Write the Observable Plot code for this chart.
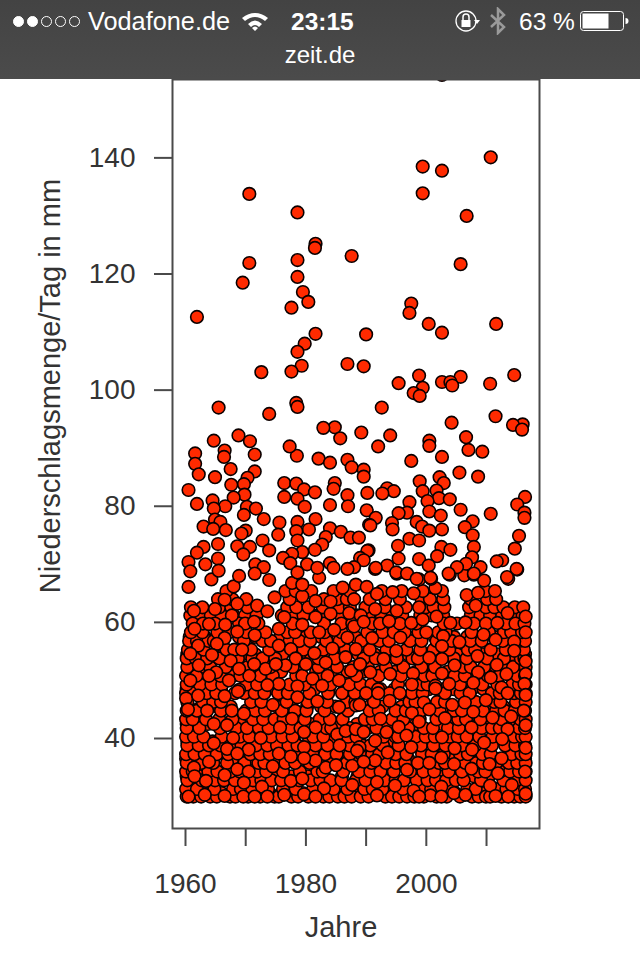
<!DOCTYPE html>
<html lang="de">
<head>
<meta charset="utf-8">
<script src="https://cdn.jsdelivr.net/npm/d3@7"></script>
<script src="https://cdn.jsdelivr.net/npm/@observablehq/plot@0.6"></script>
<style>
html,body{margin:0;padding:0;background:#fff;width:640px;height:960px;overflow:hidden}
#bar{position:relative;width:640px;height:79px;background:linear-gradient(#434343,#4b4b4b);color:#fff;font-family:"Liberation Sans",sans-serif;font-size:24.5px}
#bar span,#bar i,#bar svg{position:absolute}
.d{width:11px;height:11px;border-radius:50%;top:16px;box-sizing:border-box;border:1px solid #fff}
.f{background:#fff}
svg.plot{display:block;filter:blur(.5px)}
</style>
</head>
<body>
<div id="bar">
<i class="d f" style="left:13px"></i><i class="d f" style="left:27px"></i><i class="d" style="left:41px"></i><i class="d" style="left:55px"></i><i class="d" style="left:69px"></i>
<span style="left:88px;top:7px;font-size:25.3px">Vodafone.de</span>
<svg style="left:241px;top:11px" width="28" height="20" viewBox="0 0 28 20"><path d="M1 7Q14 -3 27 7L24 10Q14 2 4 10ZM7 13Q14 6 21 13L18 16Q14 12 10 16ZM11 17Q14 14 17 17L14 20Z" fill="#fff"/></svg>
<span style="left:291px;top:8px;font-weight:700">23:15</span>
<svg style="left:454px;top:8px" width="26" height="26" viewBox="0 0 26 26"><circle cx="12" cy="13" r="10" fill="none" stroke="#fff" stroke-width="1.3"/><rect x="7.500" y="12" width="9" height="7" fill="#fff"/><path d="M9 12V9a3 3 0 0 1 6 0v3" fill="none" stroke="#fff" stroke-width="1.500"/><path d="M20 12h6l-3 4z" fill="#fff"/></svg>
<svg style="left:489px;top:7px" width="18" height="28" viewBox="0 0 18 28"><path d="M2 8L15 20L9 26V2L15 8L2 20" fill="none" stroke="#9a9a9a" stroke-width="2.500"/></svg>
<span style="left:519px;top:8px">63 %</span>
<svg style="left:580px;top:11px" width="50" height="20" viewBox="0 0 50 20"><rect x=".5" y=".5" width="43" height="19" rx="3" fill="none" stroke="#fff"/><rect x="2.500" y="2.500" width="26" height="15" fill="#fff"/><path d="M45.500 7a3 3 0 0 1 0 6z" fill="#fff"/></svg>
<span style="left:0;width:640px;text-align:center;top:41px;font-size:24px">zeit.de</span>
</div>
<div id="chart"></div>
<script>
const xDomain=[1957.84,2018.8], yDomain=[24.5,153.5];
const xTicks=[1960,1970,1980,1990,2000,2010], yTicks=[40,60,80,100,120,140];
const xLabel="Jahre", yLabel="Niederschlagsmenge/Tag in mm";

const highPoints=[[2002.6,154.3],[2010.7,140.1],[1999.4,138.5],[2002.6,137.8],[1999.4,133.9],[1970.6,133.8],[1978.6,130.6],[2006.7,130],[1981.6,125.2],[1981.5,124.5],[1987.6,123.1],[1978.6,122.4],[1970.6,121.9],[2005.7,121.7],[1978.6,119.5],[1969.5,118.5],[1979.5,116.9],[1980.4,115.2],[1997.5,114.9],[1977.6,114.2],[1997.2,113.3],[1961.9,112.6],[2000.4,111.4],[2011.6,111.4],[2002.6,109.9],[1981.6,109.7],[1990,109.6],[1979.8,108],[1978.6,106.6],[1986.9,104.5],[1979.3,104.2],[1989.6,104.1],[1977.6,103.2],[1972.6,103.1],[2014.6,102.6],[1998.8,102.5],[2005.7,102.3],[2002.6,101.4],[2004,101.4],[1995.4,101.2],[2010.6,101.1],[2004.3,100.8],[1999.4,100.4],[1997.9,99.5],[1998.9,99],[1978.4,97.8],[1978.6,97.1],[1965.5,97],[1992.6,97],[1973.9,95.9],[2011.5,95.5],[2004.2,94.4],[2016,94.1],[2014.4,94],[1984.8,93.6],[1982.9,93.5],[2015.9,93.2],[1989.2,92.7],[1968.8,92.2],[1994,92.2],[2006.6,91.9],[1985.7,91.7],[1964.7,91.3],[2000.5,91.3],[1970.7,91.2],[2000.5,90.4],[1977.3,90.3],[1992,90.3]];

const midPoints=[[1961.6,89.1],[1971.5,88.9],[2007,89.7],[1966.5,89.6],[2009.3,89.4],[1978.5,88.7],[1966.4,88.5],[2002.6,88.5],[1982.1,88.2],[1986.9,88],[1997.5,87.8],[1984,87.5],[1961.6,87.3],[1987.6,86.7],[1967.5,86.4],[1989.6,86.3],[1971.5,86],[2005.5,85.8],[1962.2,85.5],[1989.6,85.1],[2008.6,85.1],[1964.9,85],[2002.2,85],[1970.3,84.9],[1998.9,84.3],[1976.4,84],[1984.8,84],[2002.9,84],[1978.4,83.9],[1969.7,83.8],[1967.6,83.7],[1993.5,83.1],[1984.6,83],[1979.7,82.9],[1960.5,82.8],[2001.7,82.7],[1999.4,82.6],[1994.6,82.6],[1981.5,82.4],[1990.2,82.3],[1992.7,82.2],[1969.8,82],[1986.9,81.9],[1976.4,81.6],[2016.4,81.6],[1968,81.5],[2002.1,81.4],[1978.6,81.3],[2003.9,81.2],[1964.5,81],[2000.2,80.9],[1997.2,80.7],[1961.9,80.4],[2015.1,80.3],[1984,80.2],[1966.6,80],[1987,80],[1970.2,79.9],[1979.8,79.9],[1964.7,79.6],[1971.7,79.6],[2005.7,79.4],[1990.1,79.3],[2000.5,79.1],[1996.8,78.9],[2016.3,78.9],[1995.4,78.8],[2010.7,78.7],[1969.7,78.5],[2002.4,78.4],[1991.6,78],[2016.3,78],[1973,77.8],[1981.6,77.8],[1964.9,77.7],[2007.7,77.4],[1965.8,77.3],[1978.6,77.3],[1998.4,77.3],[1975.6,77.2],[1994.3,77.1],[1990.5,76.8],[1990.7,76.7],[1963,76.5],[1999.3,76.5],[2006.4,76.4],[1984,76.2],[1964.6,76.1],[1980.5,76],[1994.4,76],[2002.6,76],[1966.7,75.9],[1970,75.8],[2000.5,75.8],[1978.4,75.7],[1985.8,75.6],[1969.3,75.3],[1975.4,75.1],[2007.7,75],[2015.4,74.9],[1983.3,74.7],[1987.4,74.6],[1988.8,74.6],[1997.2,74.4],[1972.8,74.1],[1978.6,74.1],[1998.8,74.1],[1965.4,73.5],[1982.7,73.4],[1995.3,73.2],[1968.6,73.1],[1963,73],[1970.7,73],[2002.5,73],[2007.9,73],[2014.7,72.7],[1981.5,72.5],[2004,72.5],[1973.9,72.4],[1990.4,72.4],[1990.2,72.3],[1979.4,72.1],[1961.9,72],[1977.7,71.8],[1969.6,71.7],[2001.8,71.4],[2007.6,71.2],[1976.2,71.1],[1989,71.1],[1965.4,71],[1995.4,71],[1998.8,70.9],[2012.6,70.7],[1989.6,70.7],[2011.7,70.5],[1960.5,70.4],[1977.4,70.2],[1984,70.2],[2006.6,70.1],[1963.3,70],[1971.6,70],[1980.2,70],[2000.4,69.8],[1993.5,69.8],[1973,69.5],[1988,69.5],[2005.1,69.5],[2009,69.5],[1981.9,69.4],[1984.6,69.4],[1991.6,69.4],[1986.9,69.2],[2015,69.2],[1960.8,68.8],[1965.5,68.9],[1978.6,68.6],[1995,68.6],[1971.5,68.4],[1996.8,68.4],[2003.7,68.4],[2007.9,68.4],[1968.9,68],[2013.4,67.8],[2000.7,67.7],[1998.4,67.5]];

const topLayer=[[1960.5,66.1],[1964.3,67.4],[1968,66.2],[1973.9,67.3],[1974.8,64.3],[1966.5,63.9],[1968.6,63.2],[1971.9,62.9],[1973.6,61.9],[1961.4,62],[1964.9,62.3],[1967.7,61.2],[1971.4,60.1],[1976.4,60.9],[1979.4,59.6],[1981.6,60.9],[1984.1,61.5],[1981.6,63.7],[1979.4,64.5],[1977.7,66.8],[1979.4,66.5],[1982.2,67.7],[1986.1,66],[1988.3,66.5],[1984.1,63.6],[1988,64],[1987.2,61.6],[1989.1,61.2],[1966.6,59.6],[1961.5,58.9],[1963.9,59.7],[1968.6,58.4],[1971.5,57.8],[1975.5,58.9],[1982.2,58.3],[1984.7,58.7],[1988,59.3],[1986.9,57.4],[1966.5,57.3],[1962.1,56],[1965.2,56.3],[1969.4,55.3],[1975.5,56],[1977.5,55.4],[1981.4,54.7],[1984.4,55.5],[1988.3,55.4],[1960.8,54.6],[1964.4,54.4],[1967.5,53.4],[1978.3,53.8],[1983.3,53.1],[1986.6,54],[1973.3,52],[1980,52.8],[1976.6,52.6],[1965.1,51.4],[1960.8,50],[1970.6,50.8],[1975.5,49.4],[1981.1,50.3],[1985.5,50],[1982.7,49.1],[1967.2,50],[1978.6,49],[1973.6,49.2],[1987.5,51.7],[1968.9,48.4],[1963.9,50.8],[1971.4,52.8],[1962.2,52.6],[1968.9,52],[1975,52.8],
[1990.1,66.1],[1991.8,64.9],[1994.4,65.2],[1997.9,65],[2001.5,65.9],[1998.8,67.4],[2000.8,67.5],[1995.1,68.4],[1991.5,69.2],[2003.9,68.2],[2006.3,68.1],[2007.9,68.2],[2009.6,67.2],[2013.6,67.5],[2015.1,69.1],[2006.7,64.7],[2008.6,65.1],[2008.2,62.9],[2013.5,61.6],[2016.5,61],[1991.5,62.3],[1995.1,62],[1998.8,62.6],[2001.7,61],[1989.6,60.1],[1993.8,60.2],[1997.5,59.9],[1999.4,60.5],[2004,59.9],[2006.5,60],[2011.8,59.9],[2016.5,58.3],[1991,57.3],[1995.7,57.4],[2000,58.3],[2002.8,57.6],[2005.5,56.6],[2009.5,57.9],[2011.5,57],[2014.6,56.7],[2002.6,55.9],[1995,55.1],[1989,52.8],[2008.5,54.2],[2014.6,55.1],[2002.6,53.7],[2000.5,53.9],[1992.9,53.7],[2004.7,52.6],[2011.7,52.7],[2016.5,53.3],[1990.7,51.4],[1994,51.1],[1997.8,51.2],[2002.6,51.2],[2008.6,51.4],[2013.3,51.1],[2016.5,51.1],[1997.6,49.3],[2007.8,49.6],[2010.7,50.5],[2016.3,49.4],[2001.5,49.1],[2003.8,49.4],[1992,48.5],[2012.5,48.8],
[1960.1,46.9],[1962.1,47.4],[1966.5,47.3],[1968.7,48.1],[1960.4,45],[1963.6,44.8],[1969.7,44.3],[1974.5,45.8],[1978.6,47.1],[1981.9,46.4],[1985.5,45.4],[1977.7,43.4],[1964.7,42.5],[1966.9,42.3],[1975.7,41.9],[1981.6,41.9],[1979.7,41.1],[1985.2,40.7],[1972.5,40.1],[1967.9,40.1],[1964.7,39.2],[1966.9,38.2],[1970.5,38.1],[1979.7,38.5],[1985.6,38.8],[1977.5,36.9],[1975.5,37.4],[1963.9,36],[1968.6,37.4],[1974.5,35.2],[1968.6,34.7],[1961.4,35],[1966.5,33.7],[1970.5,34.3],[1961.5,33.5],[1983.3,35],[1985,35.4],[1981.6,36.2],[1979.7,36.6],[1977.5,32.7],[1963.4,32.7],[1969.7,32.4],[1972.7,31.7],[1979.4,33.1],[1983,31.4],[1987.7,32],[1960.5,30],[1963.2,30.3],[1966.5,30.1],[1969.6,30],[1971.5,30],[1973.6,30],[1976.4,30.3],[1979.7,30.4],[1981.6,30],[1986.6,41.3],[1988.3,41.6],[1988.3,45.7],[1988.9,38.5],[1987.7,35.3],
[1990,47.8],[1992,47.8],[1995.6,47.8],[1993.9,46.5],[1999.6,46.2],[2001.5,48.6],[1988.9,45.8],[2004.3,45.8],[2006.4,46.2],[2009.9,46.6],[2013.5,47.8],[2016.5,47.5],[2016.2,44.8],[1997.6,44.4],[2000.5,45],[2007.8,44.6],[2003.1,43.5],[2011,43.6],[2014.1,43.8],[2016.5,42.3],[1992.4,43.4],[1995.4,42],[1993.4,41.1],[1998.8,42.9],[1989.6,41.1],[2007.5,41.9],[2013.5,41.6],[2002.6,40.2],[1991.5,39.6],[2012.6,39.9],[2009.6,39.3],[1996.7,40.5],[1997.5,38.5],[2004.7,38.3],[2007.6,38.1],[2016.5,38.4],[1993.6,37.6],[1988.5,37.9],[2012.5,36.6],[2002.5,36.7],[1991.5,36.2],[1989.6,36],[1998.6,35.8],[2000.5,35.8],[2004.6,35.6],[2010.5,35.6],[1996.8,34.6],[2007.5,34.8],[2016.4,34.3],[2011.9,34],[1991.8,32.5],[2002.5,31.7],[1994.8,31.9],[1997.9,31],[2010.6,31.9],[2014.2,32],[1991.8,30.2],[2000.7,30.2],[2002.5,30],[2004.6,30.6],[2006.5,30.3],[2011.5,30.1],[2013.6,30],[2016.5,30.5],[1998.8,30]];

const fillMm=[30.6,33.5,36.5,39.5,42.5,45.5,48.5,51.5,54.5,57.5,61.2,62.6,64,65.4];
const fillYears=[
[1960.4,1963.1,1966,1968.8,1971.3,1974,1977,1979.5,1982.2,1985,1987.8,1990.9,1993.7,1996.4,1999,2001.9,2004.8,2007.1,2009.6,2012,2014.1,2016.3],
[1960.2,1962.4,1965,1967.2,1970,1972.8,1975.1,1977.6,1980.3,1983,1986,1988.6,1991.8,1994.2,1997.8,2000.3,2002.8,2005.1,2007.9,2010.4,2013.2,2015.7],
[1960.1,1961.9,1963.6,1967.8,1970.7,1973.5,1975.6,1980.1,1982.4,1985.8,1987.6,1990.1,1992.6,1994.4,1997,2001.4,2004,2007.3,2009,2012.1,2014.5,2016.4],
[1960.3,1962.9,1964.5,1967.1,1969.5,1972.9,1975.8,1978.1,1980.5,1984.6,1986.2,1988.9,1992.1,1994.7,1997.8,2000.7,2002.4,2004.9,2007.8,2010.3,2012.9,2016.1],
[1960.2,1963.7,1966.2,1969.1,1971.9,1974.6,1977.9,1980.8,1983,1985.7,1988.5,1991.2,1993.6,1996.1,1998.3,2002.6,2004.7,2007,2009.8,2013.4,2015.1],
[1960.5,1962.6,1965.3,1967.5,1971,1972.7,1975.2,1977.4,1980.2,1982.5,1984.9,1987.4,1990.5,1992.7,1995.9,1998.6,2001.2,2003.8,2008.3,2010.5,2012.8,2016.2],
[1960.2,1963.2,1965.9,1969.5,1972.3,1974.9,1977.7,1981.4,1983.8,1986.5,1989.3,1992.4,1994.7,1998,2000.4,2002.9,2004.5,2007.6,2009.5,2013.5,2015.3],
[1960.4,1963.4,1966.9,1969,1972.1,1975.9,1978.6,1981.7,1984.4,1986.9,1989.6,1992.3,1994.8,1998.3,2000.8,2003.5,2005.8,2008.4,2011.1,2013.9,2016],
[1960.3,1962.6,1966.3,1969.4,1971.6,1976.1,1978.5,1980.3,1983.6,1986.4,1988.7,1991.4,1994.1,1996.9,2000.2,2002.1,2005.1,2007.7,2009.4,2011.9,2014.2,2016.4],
[1960.7,1963.2,1966,1968.9,1971.5,1975.8,1977.9,1980,1982.5,1985.4,1988.2,1990.9,1993.5,1995.9,1998.2,2001.4,2004.6,2006.8,2009,2011.3,2013.6,2015.9],
[1960.8,1962.5,1964.2,1966,1968,1969.9,1971.8,1976,1977.8,1979.6,1982,1983.6,1985.8,1988.4,1990.4,1992.6,1994.4,1996,1999,2000.9,2002.8,2007.4,2009,2010.6,2012.6,2014.4,2016],
[1960.9,1962.8,1965.6,1967.6,1970.3,1976.9,1978.4,1980.4,1982.8,1985.6,1987.3,1989.9,1993.1,1996.6,1999.9,2001.2,2003,2007.1,2009.9,2011.3,2012.8,2014.7,2016.1],
[1965.4,1967.8,1970.1,1977.3,1983,1985.2,1986.8,1990.6,1993.2,1995.6,1999.2,2000.6,2002.8,2007.4,2010.1,2011.6],
[1966.8,1976.6,1978.3,1980.9,1984.6,1987.3,1992.6,1995.9,1999.4,2002.6,2009.8,2011.4]
];

const rowMm=[30,31.3,32.8,34.3,35.8,37.3,38.8,40.3,41.8,43.3,44.8,46.3,47.8,49.3,50.8,52.3,53.8,55.3,56.8,58.3,59.8];
const rowYears=[
[1960.2,1961.3,1962.6,1964.1,1965.2,1967.4,1968.3,1970.4,1972.4,1974.8,1975.5,1977.6,1978.7,1980.4,1982.9,1983.9,1985.3,1986.4,1987.6,1989.1,1990.4,1993.2,1994.3,1995.5,1996.8,1998,1999.6,2001.7,2003.4,2005.6,2007.6,2008.7,2009.9,2010.6,2012.5,2014.6,2015.6,2016.5],
[1960.1,1961.9,1964.8,1967.9,1969.2,1971.1,1973.7,1976.2,1978.3,1981.2,1984.6,1986.9,1989.7,1991.1,1992.7,1996.1,1999.2,2000.8,2004.2,2006.8,2008.2,2011.7,2013.3,2015.2,2016.4],
[1960.3,1962.7,1964.9,1966.4,1968.2,1971.2,1972.6,1974.3,1975.9,1978.9,1980.8,1982.4,1984.1,1985.9,1988.3,1989.9,1993.1,1994.9,1996.3,1998.4,2000.2,2001.6,2003.3,2004.9,2006.2,2009.1,2012.8,2014.9,2016.5],
[1960.1,1961.2,1963.8,1965.3,1967.5,1969,1971.9,1973.4,1976.2,1979,1981.9,1982.8,1986.2,1988.8,1990.7,1992.4,1994.6,1997.3,1999.5,2001.3,2003.7,2005.9,2008.6,2009.8,2012.3,2013.9,2015.4,2016.5],
[1960.2,1962.6,1964.6,1966.9,1969.8,1972.1,1973.1,1976.6,1978.2,1980.6,1982.7,1984.4,1986.8,1988.1,1990.9,1993.3,1995,1996.5,2002.1,2003.1,2006.5,2008.3,2009.4,2011.6,2013.7,2015.1,2016.5],
[1960.1,1961.5,1963.2,1965.2,1967.1,1970.8,1972.4,1974,1978.8,1981.1,1983.2,1985.1,1987.3,1989.2,1991,1992.2,1994.9,1996.7,1999.3,2000.9,2002.9,2005.6,2006.9,2009.3,2010.7,2014.2,2015.8,2016.5],
[1960.3,1962.2,1963.9,1965.8,1968.1,1969.3,1971.7,1973.6,1975.2,1977.1,1978.6,1981.6,1983.6,1987.2,1989.4,1990.7,1992.8,1995.4,1999.1,2001.2,2003.2,2005.9,2008.1,2010.9,2013.1,2014.8,2016.4],
[1960.1,1961.4,1963,1966,1969,1970.6,1974.2,1976.1,1977.8,1981.2,1982.9,1987,1988.4,1992.9,1994.9,1995.3,1998.2,1999.9,2001.4,2003.9,2005.2,2006.7,2008.8,2011,2014.6,2015.9,2016.5],
[1960.2,1962.3,1965.7,1968.4,1970.2,1972.2,1973.8,1977.3,1979.1,1983.4,1984.2,1987.3,1990.3,1991.7,1997,1999.6,2001.1,2003.6,2005.4,2009.2,2010.9,2012.2,2015.4,2016.4],
[1960.1,1961.2,1963.4,1965.6,1967.8,1971.2,1972.9,1974.8,1976.3,1979.8,1982.3,1984,1986.1,1989.8,1991.1,1994.3,1996.2,1998.9,2001.7,2005.3,2006.6,2009,2012.5,2015.6,2016.5],
[1960.2,1961.9,1965.9,1967.7,1970.1,1971.6,1973.2,1976,1978.2,1980.1,1983.1,1987,1990.6,1992.1,1994.9,1996.6,1999.1,2002.2,2004.6,2005.9,2009.4,2011.6,2013,2014.7,2016.4],
[1960.3,1962.9,1964.6,1965.9,1970.9,1972.6,1976.8,1980.3,1983.5,1986.8,1988.2,1991.3,1997.2,1998.2,2001.8,2003.1,2008.2,2011.3,2012.3,2014.9,2016.5],
[1960.1,1961.4,1963.5,1965.1,1968.2,1969.8,1971.5,1973.1,1975.4,1977,1980.6,1983.7,1986,1988.1,1993.9,1997.6,1999.4,2003.1,2005.7,2007.2,2010.9,2012.2,2014.6,2015.7,2016.5],
[1960.2,1962.4,1964.3,1966.1,1970.1,1971.9,1977.3,1979.8,1984.1,1987.2,1989.1,1990.9,1995.3,1999.2,2000.2,2005.6,2009.3,2011.8,2014.3,2015.4,2016.5],
[1960.1,1961.8,1965.8,1967.9,1969.1,1972.4,1974.5,1978.4,1979.4,1982.6,1983.6,1988.4,1992.1,1995.8,1999.7,2001,2004.7,2006.4,2010.2,2012.1,2015.1,2016.4],
[1960.3,1963.2,1964.1,1966.7,1970.3,1974.1,1977.8,1982.1,1985.2,1987.9,1990.3,1993.3,1996.2,1999.2,2001.4,2006.1,2007.4,2009.6,2013.1,2014.4,2016.5],
[1960.2,1961.7,1963.6,1965.6,1968.7,1971.1,1972.8,1974.9,1980.9,1982.1,1984.8,1989.6,1991.6,1995.1,1997.7,1998.6,2004.6,2006.7,2010.1,2012.9,2015.7,2016.3],
[1960.4,1963,1966.8,1968.1,1970.9,1973.9,1979.6,1982.9,1986.6,1990.6,1993.4,1996.7,1999,2001.2,2003.8,2006.9,2008.1,2010.7,2013.2,2016.2],
[1960.6,1961.9,1963.8,1964.7,1969.7,1972.8,1974.2,1977.3,1978.9,1980.7,1983.4,1985.6,1989.2,1992.2,1993.8,1997.3,1999.2,2001.7,2004.2,2007.3,2009.2,2012.7,2015.4,2016.4],
[1960.9,1962.8,1965.3,1967.2,1970.1,1973.3,1976.9,1978.2,1980.8,1983.1,1985.9,1990.2,1992.7,1994.6,1996.4,1998.7,2002,2003.2,2007.5,2010.4,2012.9,2014.1,2015.9],
[1961.2,1962.9,1964.9,1968.9,1969.9,1972.1,1977.8,1983,1985.9,1987.7,1991,1992.3,1995.6,1998.3,2002.9,2005.1,2007.9,2009.9,2013.2,2014.8,2016.3]
];

const flat=(ms,ys)=>ms.flatMap((m,i)=>ys[i].map(y=>[y,m]));
const points=[...flat(fillMm,fillYears),...flat(rowMm,rowYears),...topLayer,...midPoints,...highPoints];

const ink="#4a4a4a", textInk="#333", family='"Liberation Sans",Arial,sans-serif';
const plot=Plot.plot({
  width:640,height:881,marginLeft:172,marginRight:101,marginTop:0,marginBottom:132,
  style:{fontFamily:family,background:"#fff",color:textInk},
  x:{domain:xDomain,label:null},
  y:{domain:yDomain,label:null},
  marks:[
    Plot.dot(points,{x:d=>d[0],y:d=>d[1],r:6.3,fill:"#ff2a00",stroke:"#0a0000",strokeWidth:1.6,clip:true}),
    Plot.frame({stroke:ink,strokeWidth:2}),
    Plot.axisX({ticks:xTicks,tickSize:18,tickPadding:27,tickFormat:d=>d%20===0?String(d):"",fontSize:28,stroke:ink,strokeWidth:2,fill:textInk,label:null}),
    Plot.axisY({ticks:yTicks,tickSize:18,tickPadding:19,fontSize:28,stroke:ink,strokeWidth:2,fill:textInk,label:null}),
    Plot.text([xLabel],{frameAnchor:"bottom",lineAnchor:"bottom",dx:-15,dy:108,fontSize:29,fill:textInk,clip:false}),
    Plot.text([yLabel],{frameAnchor:"left",textAnchor:"middle",rotate:-90,dx:-122,dy:-68,fontSize:29,fill:textInk,clip:false})
  ]
});
document.getElementById("chart").append(plot);
</script>
</body>
</html>
